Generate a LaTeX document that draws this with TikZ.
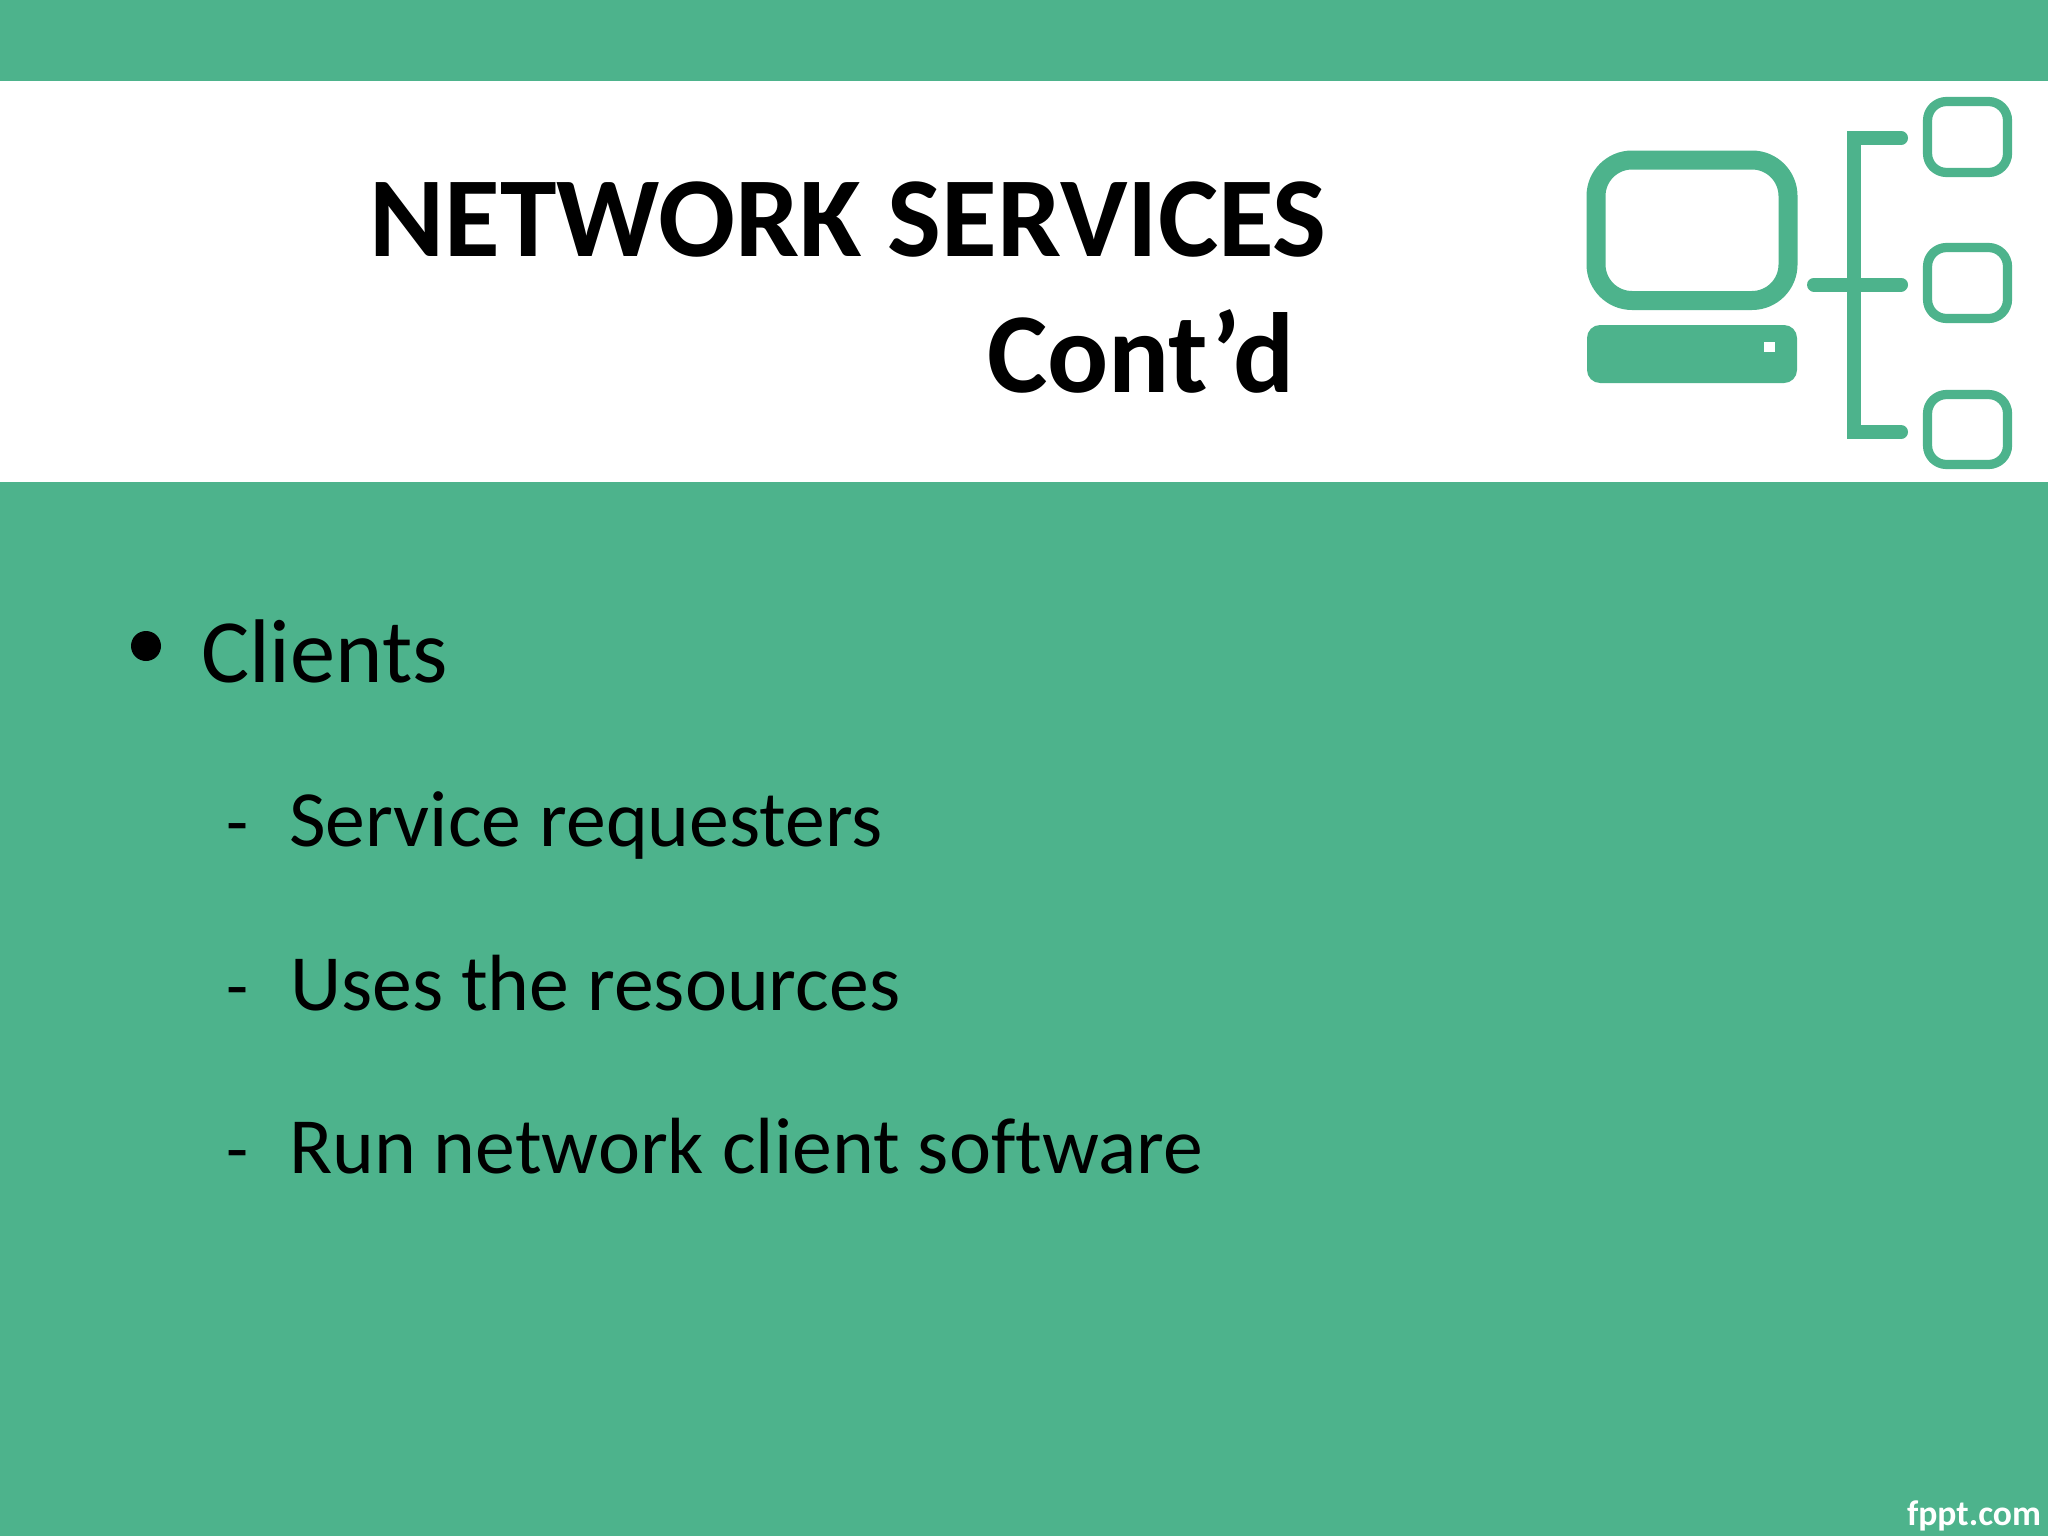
\documentclass[tikz,border=0pt]{standalone}
\usepackage{fontspec}
\setmainfont{Carlito}[Ligatures=NoCommon]
\definecolor{slidegreen}{RGB}{77,179,140}
\tikzset{
  x=0.5pt,y=-0.5pt,
  txt/.style={inner sep=0pt,outer sep=0pt,anchor=base west,text=black},
  titletxt/.style={txt,font=\fontsize{57}{60}\selectfont\bfseries},
  maintxt/.style={txt,font=\fontsize{45.2}{50}\selectfont},
  subtxt/.style={txt,font=\fontsize{39.85}{44}\selectfont},
  dashtxt/.style={txt,font=\fontsize{36}{40}\selectfont},
  iconline/.style={draw=slidegreen,line join=round},
  bar/.style={iconline,line width=7pt,line cap=round},
  leaf/.style={iconline,line width=4.6pt,rounded corners=9.5pt},
}
\begin{document}
\begin{tikzpicture}
\useasboundingbox (0,0) rectangle (2048,1536);
\fill[slidegreen] (0,0) rectangle (2048,1536);
\fill[white] (0,81) rectangle (2048,482);
% icon
\draw[iconline,line width=9.5pt,rounded corners=18pt] (1596,160) rectangle (1788,300.5);
\fill[slidegreen,rounded corners=6.5pt] (1587,325) rectangle (1797,383);
\fill[white] (1764,342) rectangle (1775,352);
\draw[bar,line cap=butt,line join=miter] (1901,138) -- (1854,138) -- (1854,432) -- (1901,432);
\fill[slidegreen] (1901,138) circle (3.5pt) (1901,432) circle (3.5pt);
\draw[bar] (1814,284.5) -- (1901,284.5);
\draw[leaf] (1927.5,101.5) rectangle (2007.5,172.5);
\draw[leaf] (1927.5,247.5) rectangle (2007.5,318.5);
\draw[leaf] (1927.5,394.5) rectangle (2007.5,464.5);
% text
\node[titletxt] (t1) at (369.5,256) {NETWORK SERVICES};
\node[titletxt] (t2) at (987,392) {Cont’d};
\fill[black] (146,646) circle (7.5pt);
\node[maintxt] (c) at (201,682) {Clients};
\node[dashtxt] (d1) at (226,846) {-};
\node[subtxt] (s1) at (289,846) {Service requesters};
\node[dashtxt] (d2) at (226,1010) {-};
\node[subtxt] (s2) at (290,1010) {Uses the resources};
\node[dashtxt] (d3) at (226,1173) {-};
\node[subtxt] (s3) at (289,1173) {Run network client software};
\node[txt,text=white,font=\fontsize{17.8}{20}\selectfont\bfseries] (f) at (1907,1525) {fppt.com};
\end{tikzpicture}
\end{document}
